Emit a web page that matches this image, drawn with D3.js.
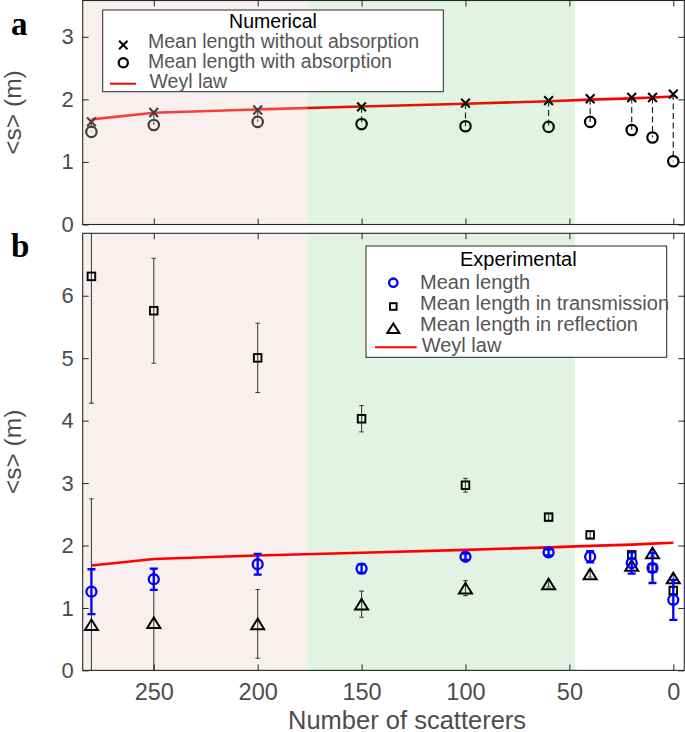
<!DOCTYPE html>
<html>
<head>
<meta charset="utf-8">
<script src="https://cdn.jsdelivr.net/npm/d3@7"></script>
<style>
  html, body { margin: 0; padding: 0; background: #fff; }
  svg { display: block; }
</style>
</head>
<body>
<svg id="chart" width="685" height="732"></svg>
<script>
// ---------------- data ----------------
const scatterers   = [280, 250, 200, 150, 100, 60, 40, 20, 10, 0];
const weylLaw      = [1.68, 1.785, 1.84, 1.885, 1.93, 1.97, 1.995, 2.015, 2.03, 2.045];
// panel a (numerical)
const numNoAbs     = [1.64, 1.79, 1.83, 1.88, 1.94, 1.98, 2.01, 2.03, 2.03, 2.085];
const numWithAbs   = [1.48, 1.59, 1.64, 1.605, 1.57, 1.56, 1.64, 1.51, 1.39, 1.01];
// panel b (experimental)
const expMean      = [1.26, 1.46, 1.70, 1.63, 1.82, 1.89, 1.82, 1.72, 1.64, 1.13];
const expMeanErr   = [0.36, 0.17, 0.165, 0.07, 0.05, 0.05, 0.09, 0.17, 0.24, 0.32];
const expTrans     = [6.31, 5.76, 5.005, 4.03, 2.965, 2.455, 2.17, 1.85, 1.64, 1.28];
const expTransErr  = [2.03, 0.84, 0.555, 0.21, 0.11, 0.05, 0.05, 0.05, 0.05, 0.05];
const expRefl      = [0.73, 0.765, 0.745, 1.06, 1.317, 1.385, 1.545, 1.68, 1.88, 1.48];
const expReflErr   = [2.02, 0.85, 0.55, 0.21, 0.12, 0.05, 0.05, 0.05, 0.05, 0.05];
// shaded regions (in number of scatterers)
const pinkRegion   = [284.2, 176];
const greenRegion  = [176, 47.3];
// ticks and labels
const xTicks       = [250, 200, 150, 100, 50, 0];
const yTicksTop    = [0, 1, 2, 3];
const yTicksBottom = [0, 1, 2, 3, 4, 5, 6];
const legendTopTitle = "Numerical";
const legendTopLabels = ["Mean length without absorption", "Mean length with absorption", "Weyl law"];
const legendBotTitle = "Experimental";
const legendBotLabels = ["Mean length", "Mean length in transmission", "Mean length in reflection", "Weyl law"];
const xLabel = "Number of scatterers";
const yLabel = "<s> (m)";

// ---------------- layout ----------------
const SANS = "'Liberation Sans', Arial, Helvetica, sans-serif";
const SERIF = "'Liberation Serif', 'Times New Roman', serif";
const svg = d3.select("#chart").style("font-family", SANS);
const L = 82.7, R = 684.3;
const topBox = {t: 0.5, b: 224.5};
const botBox = {t: 233.3, b: 670.4};
const x = d3.scaleLinear().domain([284.2, -5.3]).range([L, R]);
const yA = d3.scaleLinear().domain([0, 3.58]).range([topBox.b, topBox.t]);
const yB = d3.scaleLinear().domain([0, 7]).range([botBox.b, botBox.t]);

const AX = "#262626", TXT = "#4d4d4d", LEG = "#555555";

const defs = svg.append("defs");
defs.append("clipPath").attr("id", "clipA").append("rect")
  .attr("x", L).attr("y", topBox.t).attr("width", R - L).attr("height", topBox.b - topBox.t);
defs.append("clipPath").attr("id", "clipB").append("rect")
  .attr("x", L).attr("y", botBox.t).attr("width", R - L).attr("height", botBox.b - botBox.t);

const idx = d3.range(scatterers.length);

function crossPath(s) { return `M${-s},${-s}L${s},${s}M${-s},${s}L${s},${-s}`; }
function triPath(w, h) { return `M0,${-h/2}L${w/2},${h/2}L${-w/2},${h/2}Z`; }

// ---------------- panel a ----------------
const gA = svg.append("g").attr("clip-path", "url(#clipA)");
gA.selectAll("line.conn").data(idx).enter().append("line")
  .attr("x1", i => x(scatterers[i])).attr("x2", i => x(scatterers[i]))
  .attr("y1", i => yA(numNoAbs[i])).attr("y2", i => yA(numWithAbs[i]))
  .attr("stroke", "#222").attr("stroke-width", 1.2).attr("stroke-dasharray", "6,3.5");
const lineA = d3.line().x(i => x(scatterers[i])).y(i => yA(weylLaw[i]));
gA.append("path").attr("d", lineA(idx)).attr("fill", "none")
  .attr("stroke", "#ff0000").attr("stroke-width", 2.6);
gA.selectAll("path.cross").data(idx).enter().append("path")
  .attr("transform", i => `translate(${x(scatterers[i])},${yA(numNoAbs[i])})`)
  .attr("d", crossPath(4.4)).attr("stroke", "#000").attr("stroke-width", 2.1).attr("fill", "none");
gA.selectAll("circle.abs").data(idx).enter().append("circle")
  .attr("cx", i => x(scatterers[i])).attr("cy", i => yA(numWithAbs[i])).attr("r", 5.2)
  .attr("fill", "none").attr("stroke", "#000").attr("stroke-width", 2.2);
// translucent overlays drawn over the data
gA.append("rect").attr("x", x(pinkRegion[0])).attr("width", x(pinkRegion[1]) - x(pinkRegion[0]))
  .attr("y", topBox.t).attr("height", topBox.b - topBox.t)
  .attr("fill", "rgb(232,205,198)").attr("fill-opacity", 0.3);
gA.append("rect").attr("x", x(greenRegion[0])).attr("width", x(greenRegion[1]) - x(greenRegion[0]))
  .attr("y", topBox.t).attr("height", topBox.b - topBox.t)
  .attr("fill", "rgb(13,155,30)").attr("fill-opacity", 0.12);

// ---------------- panel b ----------------
const gB = svg.append("g").attr("clip-path", "url(#clipB)");
gB.append("rect").attr("x", x(pinkRegion[0])).attr("width", x(pinkRegion[1]) - x(pinkRegion[0]))
  .attr("y", botBox.t).attr("height", botBox.b - botBox.t).attr("fill", "rgb(248,240,238)");
gB.append("rect").attr("x", x(greenRegion[0])).attr("width", x(greenRegion[1]) - x(greenRegion[0]))
  .attr("y", botBox.t).attr("height", botBox.b - botBox.t).attr("fill", "rgb(226,243,228)");
const lineB = d3.line().x(i => x(scatterers[i])).y(i => yB(weylLaw[i]));
gB.append("path").attr("d", lineB(idx)).attr("fill", "none")
  .attr("stroke", "#ff0000").attr("stroke-width", 2.6);

function errorBars(g, vals, errs, color, width, cap) {
  const eg = g.append("g").attr("stroke", color).attr("stroke-width", width).attr("fill", "none");
  idx.forEach(i => {
    const cx = x(scatterers[i]);
    const y1 = yB(vals[i] - errs[i]), y2 = yB(vals[i] + errs[i]);
    eg.append("line").attr("x1", cx).attr("x2", cx).attr("y1", y1).attr("y2", y2);
    eg.append("line").attr("x1", cx - cap).attr("x2", cx + cap).attr("y1", y1).attr("y2", y1);
    eg.append("line").attr("x1", cx - cap).attr("x2", cx + cap).attr("y1", y2).attr("y2", y2);
  });
}
errorBars(gB, expTrans, expTransErr, "#444", 1.1, 2.3);
errorBars(gB, expRefl, expReflErr, "#444", 1.1, 2.3);
gB.selectAll("rect.sq").data(idx).enter().append("rect")
  .attr("x", i => x(scatterers[i]) - 3.8).attr("y", i => yB(expTrans[i]) - 3.8)
  .attr("width", 7.6).attr("height", 7.6)
  .attr("fill", "none").attr("stroke", "#000").attr("stroke-width", 1.9);
gB.selectAll("path.tri").data(idx).enter().append("path")
  .attr("transform", i => `translate(${x(scatterers[i])},${yB(expRefl[i])})`)
  .attr("d", triPath(13, 10.5)).attr("fill", "none").attr("stroke", "#000")
  .attr("stroke-width", 2).attr("stroke-linejoin", "miter");
errorBars(gB, expMean, expMeanErr, "#0000ff", 2.3, 4);
gB.selectAll("circle.mean").data(idx).enter().append("circle")
  .attr("cx", i => x(scatterers[i])).attr("cy", i => yB(expMean[i])).attr("r", 5)
  .attr("fill", "none").attr("stroke", "#0000ff").attr("stroke-width", 2.3);

// ---------------- axes ----------------
function drawAxes(y, box, yTicks, showX) {
  const g = svg.append("g");
  const ab = g.append("g").attr("transform", `translate(0,${box.b})`)
    .call(d3.axisBottom(x).tickValues(xTicks).tickSize(-6).tickPadding(12.5)
      .tickFormat(showX ? d3.format("d") : () => ""));
  const at = g.append("g").attr("transform", `translate(0,${box.t})`)
    .call(d3.axisTop(x).tickValues(xTicks).tickSize(-6).tickFormat(() => ""));
  const al = g.append("g").attr("transform", `translate(${L},0)`)
    .call(d3.axisLeft(y).tickValues(yTicks).tickSize(-6).tickPadding(9).tickFormat(d3.format("d")));
  const ar = g.append("g").attr("transform", `translate(${R},0)`)
    .call(d3.axisRight(y).tickValues(yTicks).tickSize(-6).tickFormat(() => ""));
  [ab, at, al, ar].forEach(a => {
    a.select(".domain").remove();
    a.selectAll("line").attr("stroke", AX).attr("stroke-width", 1);
    a.selectAll("text").attr("fill", TXT).style("font-family", SANS);
  });
  al.selectAll("text").style("font-size", "22px");
  ab.selectAll("text").style("font-size", "23.5px");
  g.append("rect").attr("x", L).attr("y", box.t).attr("width", R - L).attr("height", box.b - box.t)
    .attr("fill", "none").attr("stroke", AX).attr("stroke-width", 1.1);
}
drawAxes(yA, topBox, yTicksTop, false);
drawAxes(yB, botBox, yTicksBottom, true);

// axis labels
svg.append("text").attr("x", 288).attr("y", 728.5).attr("text-anchor", "start")
  .style("font-size", "25.5px").attr("fill", TXT).text(xLabel);
[topBox, botBox].forEach(b => {
  svg.append("text").attr("transform", `translate(21,${(b.t + b.b) / 2}) rotate(-90)`)
    .attr("text-anchor", "middle").style("font-size", "24.5px").attr("fill", TXT).text(yLabel);
});

// panel letters
svg.append("text").attr("x", 11).attr("y", 35).style("font-family", SERIF)
  .style("font-weight", "bold").style("font-size", "33px").attr("fill", "#000").text("a");
svg.append("text").attr("x", 11).attr("y", 257).style("font-family", SERIF)
  .style("font-weight", "bold").style("font-size", "33px").attr("fill", "#000").text("b");

// ---------------- legends ----------------
function legendBox(x0, y0, x1, y1) {
  svg.append("rect").attr("x", x0).attr("y", y0).attr("width", x1 - x0).attr("height", y1 - y0)
    .attr("fill", "#fff").attr("stroke", AX).attr("stroke-width", 1);
}
// top legend
legendBox(102.7, 10, 443.3, 91.7);
svg.append("text").attr("x", 273).attr("y", 27.5).attr("text-anchor", "middle")
  .style("font-size", "19.5px").attr("fill", "#000").text(legendTopTitle);
const topRows = [48, 68.1, 88.4];
legendTopLabels.forEach((t, i) => {
  svg.append("text").attr("x", i === 2 ? 149.5 : 148).attr("y", topRows[i])
    .style("font-size", "19.5px").attr("fill", LEG).text(t);
});
svg.append("path").attr("transform", "translate(123.3,45)").attr("d", crossPath(4.2))
  .attr("stroke", "#000").attr("stroke-width", 2).attr("fill", "none");
svg.append("circle").attr("cx", 123.3).attr("cy", 62.8).attr("r", 4.6)
  .attr("fill", "none").attr("stroke", "#000").attr("stroke-width", 2.2);
svg.append("line").attr("x1", 110).attr("x2", 136).attr("y1", 83.7).attr("y2", 83.7)
  .attr("stroke", "#ff0000").attr("stroke-width", 2);

// bottom legend
legendBox(366, 246, 666.7, 357.3);
svg.append("text").attr("x", 518.3).attr("y", 266).attr("text-anchor", "middle")
  .style("font-size", "20px").attr("fill", "#000").text(legendBotTitle);
const botRows = [288.5, 310, 331, 351.5];
legendBotLabels.forEach((t, i) => {
  svg.append("text").attr("x", i === 3 ? 421.7 : 420).attr("y", botRows[i])
    .style("font-size", "20px").attr("fill", LEG).text(t);
});
svg.append("circle").attr("cx", 393.3).attr("cy", 282.7).attr("r", 4.2)
  .attr("fill", "none").attr("stroke", "#0000ff").attr("stroke-width", 2.3);
svg.append("rect").attr("x", 393.3 - 3.3).attr("y", 306.5 - 3.3).attr("width", 6.6).attr("height", 6.6)
  .attr("fill", "none").attr("stroke", "#000").attr("stroke-width", 1.9);
svg.append("path").attr("transform", "translate(393.3,328.3)").attr("d", triPath(12, 9.5))
  .attr("fill", "none").attr("stroke", "#000").attr("stroke-width", 2);
svg.append("line").attr("x1", 375).attr("x2", 416.7).attr("y1", 347.3).attr("y2", 347.3)
  .attr("stroke", "#ff0000").attr("stroke-width", 2);
</script>
</body>
</html>
